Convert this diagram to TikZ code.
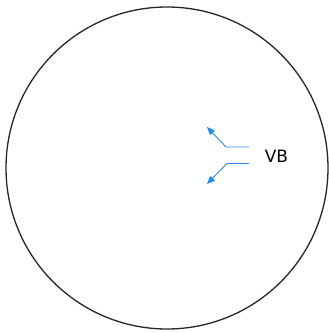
\documentclass[tikz,border=0pt]{standalone}
\usepackage{fontspec}
\setmainfont{DejaVu Sans}
\usetikzlibrary{arrows.meta}
\definecolor{arrowblue}{HTML}{1E8CFF}
\tikzset{
  bluearrow/.style={draw=arrowblue, line width=0.9pt, -{Triangle[length=8pt,width=6.5pt]}},
  label/.style={font=\fontsize{17}{20}\selectfont, text=black, inner sep=0pt}
}
\begin{document}
\begin{tikzpicture}[x=1pt,y=-1pt]
\useasboundingbox (0,0) rectangle (329,333);
\node[draw=black!85, line width=1.3pt, circle, minimum size=322pt, inner sep=0pt] (c) at (167,168) {};
\node[label] (vb) at (276.5,156) {VB};
\coordinate (s1) at (249,147);
\coordinate (b1) at (226,147);
\coordinate (t1) at (207,127);
\coordinate (s2) at (249,163.5);
\coordinate (b2) at (227,163.5);
\coordinate (t2) at (207,184);
\draw[bluearrow] (s1) -- (b1) -- (t1);
\draw[bluearrow] (s2) -- (b2) -- (t2);
\end{tikzpicture}
\end{document}
